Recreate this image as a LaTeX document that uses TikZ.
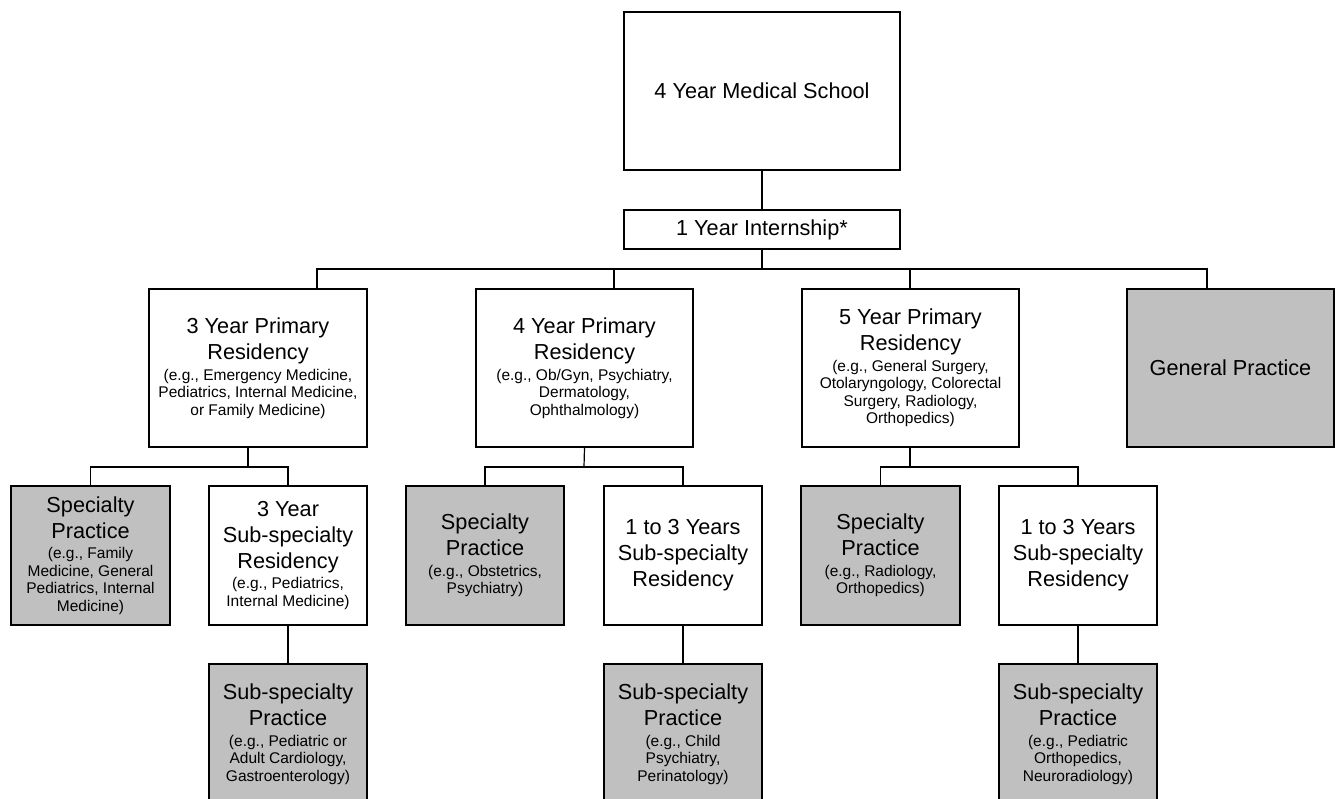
\documentclass[tikz,border=0pt]{standalone}
\usepackage{fontspec}
\setmainfont{Liberation Sans}
\newcommand\BigT{\fontsize{21.7}{26}\selectfont}
\newcommand\SmT{\fontsize{15.5}{17.5}\selectfont}
\newcommand\Brk{\par\vspace{3pt}\SmT}
\definecolor{boxgray}{RGB}{192,192,192}
\begin{document}
\begin{tikzpicture}[x=1pt,y=-1pt,
  box/.style={draw=black, line width=1.2pt, fill=white, inner sep=0pt, align=flush center, font=\BigT},
  gbox/.style={box, fill=boxgray},
  lvtwo/.style={minimum width=217pt, minimum height=158pt, text width=211pt},
  lvthree/.style={minimum width=158pt, minimum height=139pt, text width=152pt},
  lvfour/.style={minimum width=158pt, minimum height=140pt, text width=152pt},
  conn/.style={draw=black, line width=1.2pt}]
\useasboundingbox (0,0) rectangle (1336,799);

% top
\node[box, minimum width=276pt, minimum height=158pt, text width=270pt] (school) at (762,91) {4 Year Medical School};
\node[box, minimum width=276pt, minimum height=39pt, text width=270pt] (intern) at (762,229.5) {1 Year Internship*};

% level 2
\node[box, lvtwo, minimum width=218pt] (prim3) at (258,368) {3 Year Primary\\Residency\Brk (e.g., Emergency Medicine,\\Pediatrics, Internal Medicine,\\or Family Medicine)\par};
\node[box, lvtwo] (prim4) at (584.5,368) {4 Year Primary\\Residency\Brk (e.g., Ob/Gyn, Psychiatry,\\Dermatology,\\Ophthalmology)\par};
\node[box, lvtwo] (prim5) at (910.5,368) {5 Year Primary\\Residency\Brk (e.g., General Surgery,\\Otolaryngology, Colorectal\\Surgery, Radiology,\\Orthopedics)\par};
\node[gbox, lvtwo, minimum width=207pt, text width=201pt] (gp) at (1230.5,368) {General Practice};

% level 3
\node[gbox, lvthree, minimum width=159pt] (spec1) at (90.5,555.5) {Specialty\\Practice\Brk (e.g., Family\\Medicine, General\\Pediatrics, Internal\\Medicine)\par};
\node[box, lvthree] (sub3) at (288,555.5) {3 Year\\Sub-specialty\\Residency\Brk (e.g., Pediatrics,\\Internal Medicine)\par};
\node[gbox, lvthree] (spec2) at (485,555.5) {Specialty\\Practice\Brk (e.g., Obstetrics,\\Psychiatry)\par};
\node[box, lvthree] (suba) at (683,555.5) {1 to 3 Years\\Sub-specialty\\Residency};
\node[gbox, lvthree, minimum width=159pt] (spec3) at (880.5,555.5) {Specialty\\Practice\Brk (e.g., Radiology,\\Orthopedics)\par};
\node[box, lvthree] (subb) at (1078,555.5) {1 to 3 Years\\Sub-specialty\\Residency};

% level 4
\node[gbox, lvfour] (ssp1) at (288,734) {Sub-specialty\\Practice\Brk (e.g., Pediatric or\\Adult Cardiology,\\Gastroenterology)\par};
\node[gbox, lvfour] (ssp2) at (683,734) {Sub-specialty\\Practice\Brk (e.g., Child\\Psychiatry,\\Perinatology)\par};
\node[gbox, lvfour] (ssp3) at (1078,734) {Sub-specialty\\Practice\Brk (e.g., Pediatric\\Orthopedics,\\Neuroradiology)\par};

% connectors
\coordinate (bus) at (762,269);
\draw[conn] (school) -- (intern);
\draw[conn] (intern.south) -- (bus);
\draw[conn] (bus) -| ([xshift=59pt]prim3.north);
\draw[conn] (bus) -| ([xshift=29.5pt]prim4.north);
\draw[conn] (bus) -| ([xshift=-0.5pt]prim5.north);
\draw[conn] (bus) -| ([xshift=-23.5pt]gp.north);

\coordinate (busa) at (248,467);
\coordinate (busb) at (584,467);
\coordinate (busc) at (910,467);
\draw[conn] ([xshift=-10pt]prim3.south) -- (busa);
\draw[conn] (busa) -| (spec1.north);
\draw[conn] (busa) -| (sub3.north);
\draw[conn] (prim4.south) -- (busb);
\draw[conn] (busb) -| (spec2.north);
\draw[conn] (busb) -| (suba.north);
\draw[conn] ([xshift=-0.5pt]prim5.south) -- (busc);
\draw[conn] (busc) -| (spec3.north);
\draw[conn] (busc) -| (subb.north);

\draw[conn] (sub3) -- (ssp1);
\draw[conn] (suba) -- (ssp2);
\draw[conn] (subb) -- (ssp3);
\end{tikzpicture}
\end{document}
